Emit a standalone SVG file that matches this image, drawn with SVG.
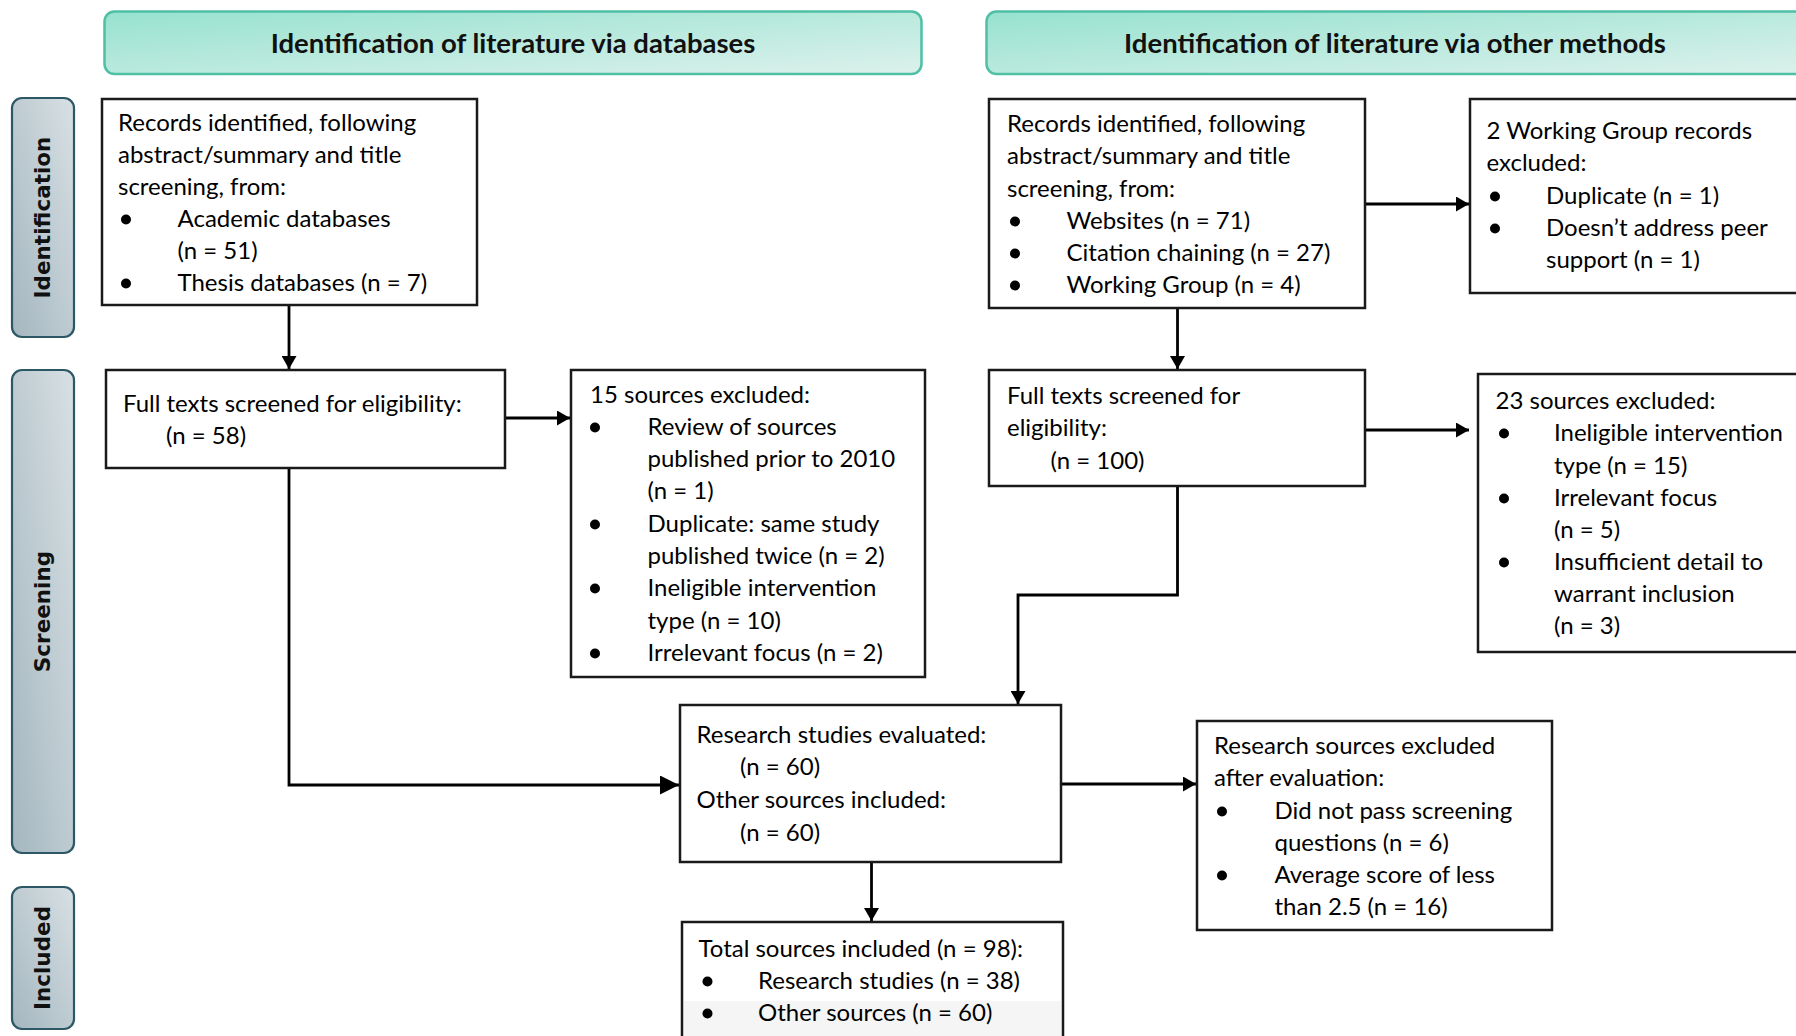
<svg xmlns="http://www.w3.org/2000/svg" width="1796" height="1036" viewBox="0 0 1796 1036">
<defs>
<linearGradient id="hdrGrad" x1="0" y1="0" x2="1" y2="1">
<stop offset="0" stop-color="#97e2cf"/>
<stop offset="1" stop-color="#dcf1ec"/>
</linearGradient>
<linearGradient id="sideGrad" x1="1" y1="0" x2="0" y2="1">
<stop offset="0" stop-color="#d8e0e4"/>
<stop offset="1" stop-color="#a4b6bf"/>
</linearGradient>
<marker id="arr" markerUnits="userSpaceOnUse" markerWidth="14" markerHeight="15" refX="13" refY="7.5" orient="auto">
<path d="M0,0 L13,7.5 L0,15 z" fill="#000"/>
</marker>
<marker id="arrL" markerUnits="userSpaceOnUse" markerWidth="20" markerHeight="19" refX="19" refY="9.5" orient="auto">
<path d="M0,0 L19,9.5 L0,19 z" fill="#000"/>
</marker>
<style>
.hdr{fill:url(#hdrGrad);stroke:#4fbfa6;stroke-width:2.5}
.hdrt{font-family:Lato,"Liberation Sans",sans-serif;font-weight:bold;font-size:27.5px;fill:#111;text-anchor:middle}
.side{fill:url(#sideGrad);stroke:#2c5865;stroke-width:2.2}
.sidet{font-family:"DejaVu Sans",Verdana,sans-serif;font-weight:bold;font-size:21.5px;fill:#111;text-anchor:middle}
.box{fill:#fff;stroke:#1a1a1a;stroke-width:2.5}
.t{font-family:Lato,"Open Sans","Liberation Sans",sans-serif;font-size:24px;fill:#000}
.b{fill:#000}
.c{fill:none;stroke:#000;stroke-width:2.8}
</style>
</defs>

<g id="header-databases">
<rect class="hdr" x="104.5" y="11.5" width="817" height="62.5" rx="10"/>
<text class="hdrt" x="513" y="53">Identification of literature via databases</text>
</g>
<g id="header-other">
<rect class="hdr" x="986.5" y="11.5" width="830" height="62.5" rx="10"/>
<text class="hdrt" x="1395" y="53">Identification of literature via other methods</text>
</g>

<g id="label-identification">
<rect class="side" x="12" y="98" width="62" height="239" rx="10"/>
<text class="sidet" transform="translate(50,217.5) rotate(-90)">Identification</text>
</g>
<g id="label-screening">
<rect class="side" x="12" y="370" width="62" height="483" rx="10"/>
<text class="sidet" transform="translate(50,611.5) rotate(-90)">Screening</text>
</g>
<g id="label-included">
<rect class="side" x="12" y="887" width="62" height="142" rx="10"/>
<text class="sidet" transform="translate(50,958) rotate(-90)">Included</text>
</g>

<g id="connectors">
<path class="c" d="M289 305 V369" marker-end="url(#arr)"/>
<path class="c" d="M505 418 H570" marker-end="url(#arr)"/>
<path class="c" d="M289 468 V785 H679" marker-end="url(#arrL)"/>
<path class="c" d="M1177.5 308 V369" marker-end="url(#arr)"/>
<path class="c" d="M1365 204 H1469" marker-end="url(#arr)"/>
<path class="c" d="M1365 430 H1469" marker-end="url(#arr)"/>
<path class="c" d="M1177.5 486 V595 H1018 V704" marker-end="url(#arr)"/>
<path class="c" d="M1061 784 H1196" marker-end="url(#arr)"/>
<path class="c" d="M871.5 862 V921" marker-end="url(#arr)"/>
</g>

<g id="node-records-db">
<rect class="box" x="102" y="99" width="375" height="206"/>
<text class="t" x="118" y="131">Records identified, following</text>
<text class="t" x="118" y="163">abstract/summary and title</text>
<text class="t" x="118" y="195">screening, from:</text>
<circle class="b" cx="126" cy="219.5" r="5"/>
<text class="t" x="177.5" y="227">Academic databases</text>
<text class="t" x="177.5" y="259">(n = 51)</text>
<circle class="b" cx="126" cy="283.5" r="5"/>
<text class="t" x="177.5" y="291">Thesis databases (n = 7)</text>
</g>

<g id="node-fulltext-db">
<rect class="box" x="106" y="370" width="399" height="98"/>
<text class="t" x="123" y="412">Full texts screened for eligibility:</text>
<text class="t" x="166" y="444">(n = 58)</text>
</g>

<g id="node-excluded-db">
<rect class="box" x="571" y="370" width="354" height="307"/>
<text class="t" x="590" y="403">15 sources excluded:</text>
<circle class="b" cx="595" cy="427.5" r="5"/>
<text class="t" x="647.5" y="435">Review of sources</text>
<text class="t" x="647.5" y="467">published prior to 2010</text>
<text class="t" x="647.5" y="499">(n = 1)</text>
<circle class="b" cx="595" cy="524.5" r="5"/>
<text class="t" x="647.5" y="532">Duplicate: same study</text>
<text class="t" x="647.5" y="564">published twice (n = 2)</text>
<circle class="b" cx="595" cy="588.5" r="5"/>
<text class="t" x="647.5" y="596">Ineligible intervention</text>
<text class="t" x="647.5" y="629">type (n = 10)</text>
<circle class="b" cx="595" cy="653.5" r="5"/>
<text class="t" x="647.5" y="661">Irrelevant focus (n = 2)</text>
</g>

<g id="node-records-other">
<rect class="box" x="989" y="99" width="376" height="209"/>
<text class="t" x="1007" y="132">Records identified, following</text>
<text class="t" x="1007" y="164">abstract/summary and title</text>
<text class="t" x="1007" y="197">screening, from:</text>
<circle class="b" cx="1015" cy="221.5" r="5"/>
<text class="t" x="1066.5" y="229">Websites (n = 71)</text>
<circle class="b" cx="1015" cy="253.5" r="5"/>
<text class="t" x="1066.5" y="261">Citation chaining (n = 27)</text>
<circle class="b" cx="1015" cy="285.5" r="5"/>
<text class="t" x="1066.5" y="293">Working Group (n = 4)</text>
</g>

<g id="node-wg-excluded">
<rect class="box" x="1470" y="99" width="340" height="194"/>
<text class="t" x="1486.5" y="139">2 Working Group records</text>
<text class="t" x="1486.5" y="171">excluded:</text>
<circle class="b" cx="1495" cy="196.5" r="5"/>
<text class="t" x="1546" y="204">Duplicate (n = 1)</text>
<circle class="b" cx="1495" cy="228.5" r="5"/>
<text class="t" x="1546" y="236">Doesn’t address peer</text>
<text class="t" x="1546" y="268">support (n = 1)</text>
</g>

<g id="node-fulltext-other">
<rect class="box" x="989" y="370" width="376" height="116"/>
<text class="t" x="1007" y="404">Full texts screened for</text>
<text class="t" x="1007" y="436">eligibility:</text>
<text class="t" x="1050.5" y="469">(n = 100)</text>
</g>

<g id="node-excluded-other">
<rect class="box" x="1478" y="374" width="340" height="278"/>
<text class="t" x="1495.5" y="409">23 sources excluded:</text>
<circle class="b" cx="1504" cy="433.5" r="5"/>
<text class="t" x="1554" y="441">Ineligible intervention</text>
<text class="t" x="1554" y="474">type (n = 15)</text>
<circle class="b" cx="1504" cy="498.5" r="5"/>
<text class="t" x="1554" y="506">Irrelevant focus</text>
<text class="t" x="1554" y="538">(n = 5)</text>
<circle class="b" cx="1504" cy="562.5" r="5"/>
<text class="t" x="1554" y="570">Insufficient detail to</text>
<text class="t" x="1554" y="602">warrant inclusion</text>
<text class="t" x="1554" y="634">(n = 3)</text>
</g>

<g id="node-evaluated">
<rect class="box" x="680" y="705" width="381" height="157"/>
<text class="t" x="696.5" y="743">Research studies evaluated:</text>
<text class="t" x="740" y="775">(n = 60)</text>
<text class="t" x="696.5" y="808">Other sources included:</text>
<text class="t" x="740" y="841">(n = 60)</text>
</g>

<g id="node-eval-excluded">
<rect class="box" x="1197" y="721" width="355" height="209"/>
<text class="t" x="1214" y="754">Research sources excluded</text>
<text class="t" x="1214" y="786">after evaluation:</text>
<circle class="b" cx="1222" cy="811.5" r="5"/>
<text class="t" x="1274.5" y="819">Did not pass screening</text>
<text class="t" x="1274.5" y="851">questions (n = 6)</text>
<circle class="b" cx="1222" cy="875.5" r="5"/>
<text class="t" x="1274.5" y="883">Average score of less</text>
<text class="t" x="1274.5" y="915">than 2.5 (n = 16)</text>
</g>

<g id="node-total">
<rect class="box" x="682" y="922" width="381" height="130"/>
<rect x="684" y="1001" width="377" height="40" fill="#f5f5f5"/>
<text class="t" x="698.5" y="957">Total sources included (n = 98):</text>
<circle class="b" cx="707.5" cy="981.5" r="5"/>
<text class="t" x="758" y="989">Research studies (n = 38)</text>
<circle class="b" cx="707.5" cy="1013.5" r="5"/>
<text class="t" x="758" y="1021">Other sources (n = 60)</text>
</g>
</svg>
